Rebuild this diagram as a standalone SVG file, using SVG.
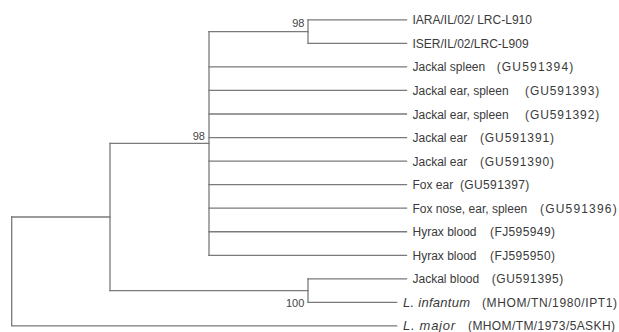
<svg xmlns="http://www.w3.org/2000/svg" width="619" height="332" viewBox="0 0 619 332">
<style>
.br{fill:none;stroke:#7a7a7a;stroke-width:1.3;stroke-linecap:square}
.lb{font-family:"Liberation Sans",Arial,sans-serif;font-size:12px;fill:#3a3a3a}
.bs{font-family:"Liberation Sans",Arial,sans-serif;font-size:11px;fill:#444;text-anchor:end}
.it{font-style:italic;font-size:13px}
</style>
<rect width="619" height="332" fill="#fff"/>
<g id="connectors" class="br">
<path d="M11.7,217 V325.95 H396.7"/>
<path d="M11.7,217 H110"/>
<path d="M110,143.45 V290.6"/>
<path d="M110,143.45 H209"/>
<path d="M110,290.6 H308"/>
<path d="M209,31.6 V255.3"/>
<path d="M209,31.6 H308"/>
<path d="M308,19.8 V43.35"/>
<path d="M308,19.8 H406.5 M308,43.35 H406.5"/>
<path d="M209,66.9 H406.5 M209,90.45 H406.5 M209,114 H406.5 M209,137.55 H406.5 M209,161.1 H406.5 M209,184.65 H406.5 M209,208.2 H406.5 M209,231.75 H406.5 M209,255.3 H406.5"/>
<path d="M308,278.85 V302.4"/>
<path d="M308,278.85 H406.5 M308,302.4 H396.7"/>
</g>
<g id="bootstrap">
<text class="bs" x="304.5" y="27.3">98</text>
<text class="bs" x="205" y="140">98</text>
<text class="bs" x="304.3" y="306.7">100</text>
</g>
<g id="leaf-1"><text class="lb" x="412.5" y="24.3">IARA/IL/02/ LRC-L910</text></g>
<g id="leaf-2"><text class="lb" x="412.5" y="47.85">ISER/IL/02/LRC-L909</text></g>
<g id="leaf-3"><text class="lb" x="412.5" y="71.4">Jackal spleen <tspan x="496.7" textLength="76.6" lengthAdjust="spacing">(GU591394)</tspan></text></g>
<g id="leaf-4"><text class="lb" x="412.5" y="94.95">Jackal ear, spleen <tspan x="525" textLength="74.3" lengthAdjust="spacing">(GU591393)</tspan></text></g>
<g id="leaf-5"><text class="lb" x="412.5" y="118.5">Jackal ear, spleen <tspan x="525" textLength="74.3" lengthAdjust="spacing">(GU591392)</tspan></text></g>
<g id="leaf-6"><text class="lb" x="412.5" y="142.05">Jackal ear <tspan x="480" textLength="74" lengthAdjust="spacing">(GU591391)</tspan></text></g>
<g id="leaf-7"><text class="lb" x="412.5" y="165.6">Jackal ear <tspan x="480" textLength="74" lengthAdjust="spacing">(GU591390)</tspan></text></g>
<g id="leaf-8"><text class="lb" x="412.5" y="189.15">Fox ear <tspan x="460" textLength="69.3" lengthAdjust="spacing">(GU591397)</tspan></text></g>
<g id="leaf-9"><text class="lb" x="412.5" y="212.7">Fox nose, ear, spleen <tspan x="540" textLength="76.7" lengthAdjust="spacing">(GU591396)</tspan></text></g>
<g id="leaf-10"><text class="lb" x="412.5" y="236.25">Hyrax blood <tspan x="490" textLength="65" lengthAdjust="spacing">(FJ595949)</tspan></text></g>
<g id="leaf-11"><text class="lb" x="412.5" y="259.8">Hyrax blood <tspan x="490" textLength="65" lengthAdjust="spacing">(FJ595950)</tspan></text></g>
<g id="leaf-12"><text class="lb" x="412.5" y="283.35">Jackal blood <tspan x="491.7" textLength="71.6" lengthAdjust="spacing">(GU591395)</tspan></text></g>
<g id="leaf-13"><text class="lb" x="403" y="306.9"><tspan class="it" textLength="67" lengthAdjust="spacing">L. infantum</tspan> <tspan x="482" textLength="135" lengthAdjust="spacing">(MHOM/TN/1980/IPT1)</tspan></text></g>
<g id="leaf-14"><text class="lb" x="403" y="330.45"><tspan class="it" textLength="52" lengthAdjust="spacing">L. major</tspan> <tspan x="468" textLength="147" lengthAdjust="spacing">(MHOM/TM/1973/5ASKH)</tspan></text></g>
</svg>
